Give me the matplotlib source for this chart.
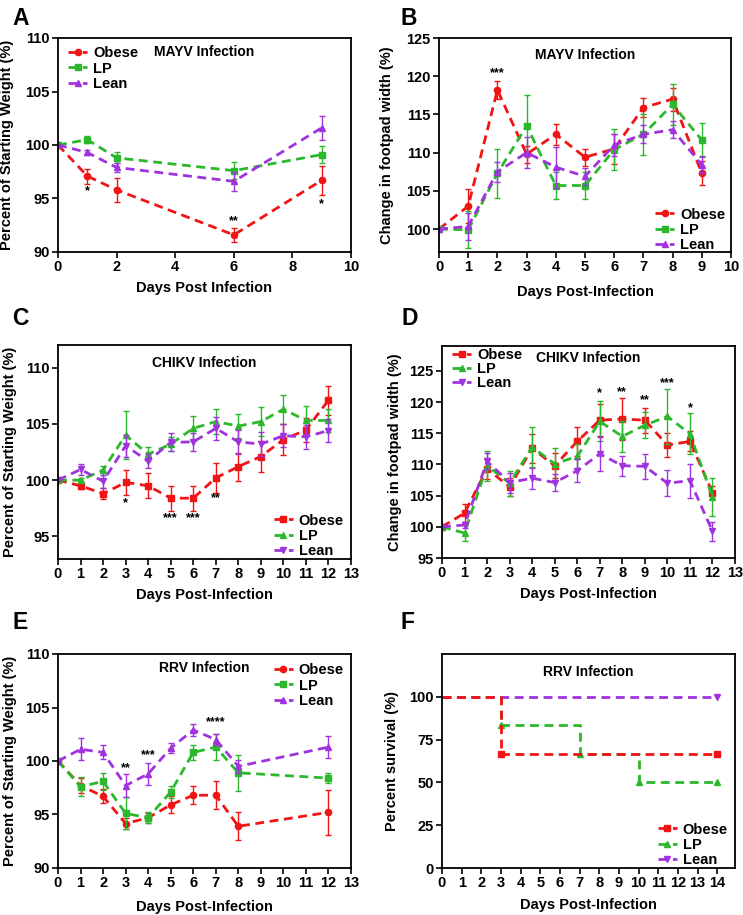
import numpy as np
import matplotlib
matplotlib.use("Agg")
import matplotlib.pyplot as plt

plt.rcParams['font.family'] = ['Liberation Sans', 'DejaVu Sans']
plt.rcParams['font.weight'] = 'bold'
plt.rcParams['axes.labelweight'] = 'bold'

RED = '#f01414'
GREEN = '#2cb82c'
PURPLE = '#a032e0'
groups = ['Obese', 'LP', 'Lean']
colors = [RED, GREEN, PURPLE]

############ DATA ########################

# A - MAYV weight
a_days = [0, 1, 2, 6, 9]
a_obese = [100, 97.1, 95.8, 91.6, 96.7]
a_obese_err = [0, 0.7, 1.1, 0.65, 1.35]
a_lp = [100, 100.5, 98.8, 97.6, 99.1]
a_lp_err = [0, 0.3, 0.5, 0.8, 0.8]
a_lean = [100, 99.3, 97.9, 96.6, 101.6]
a_lean_err = [0, 0.25, 0.4, 0.9, 1.15]
a_stars = [(1, 95.7, '*'), (6, 92.9, '**'), (9, 94.5, '*')]

# B - MAYV footpad
b_days = [0, 1, 2, 3, 4, 5, 6, 7, 8, 9]
b_obese = [100, 103.0, 118.2, 109.8, 112.4, 109.4, 110.5, 115.9, 117.0, 107.3]
b_obese_err = [0, 2.2, 1.2, 1.1, 1.4, 1.1, 2.0, 1.2, 1.5, 1.55]
b_lp = [100, 99.9, 107.3, 113.5, 105.7, 105.7, 110.4, 112.4, 116.3, 111.65]
b_lp_err = [0, 2.4, 3.2, 4.0, 1.8, 1.8, 2.7, 2.7, 2.7, 2.2]
b_lean = [100, 100.35, 107.5, 110.0, 108.1, 106.9, 111.0, 112.4, 113.0, 108.4]
b_lean_err = [0, 1.8, 1.3, 2.0, 2.7, 1.1, 1.4, 1.2, 1.1, 1.1]
b_stars = [(2, 120.4, '***')]

# C - CHIKV weight
c_days = list(range(13))
c_obese = [100, 99.5, 98.8, 99.8, 99.5, 98.4, 98.4, 100.2, 101.2, 102.1, 103.6, 104.45, 107.1]
c_obese_err = [0, 0.3, 0.5, 1.1, 1.1, 1.1, 1.1, 1.3, 1.25, 1.4, 1.4, 1.1, 1.3]
c_lp = [100, 100.0, 100.9, 104.0, 102.3, 103.2, 104.6, 105.2, 104.8, 105.2, 106.3, 105.3, 105.3]
c_lp_err = [0, 0.15, 0.4, 2.1, 0.6, 0.6, 1.1, 1.1, 1.1, 1.3, 1.3, 1.25, 1.0]
c_lean = [100, 100.95, 99.9, 103.05, 101.7, 103.35, 103.4, 104.6, 103.4, 103.2, 103.95, 103.85, 104.4]
c_lean_err = [0, 0.5, 0.6, 1.0, 0.65, 0.8, 0.8, 1.05, 1.05, 1.05, 1.0, 1.05, 1.05]
c_stars = [(3, 98.0, '*'), (5, 96.6, '***'), (6, 96.6, '***'), (7, 98.4, '**')]

# D - CHIKV footpad
d_days = list(range(13))
d_obese = [100, 102.2, 109.3, 106.4, 112.6, 109.8, 113.7, 117.1, 117.3, 117.1, 113.1, 113.7, 105.5]
d_obese_err = [0, 1.4, 1.6, 1.5, 2.3, 2.0, 2.3, 2.6, 3.4, 2.0, 1.95, 1.6, 1.0]
d_lp = [100, 99.0, 109.8, 107.0, 112.8, 110.1, 111.3, 116.9, 114.5, 116.3, 117.7, 114.9, 104.8]
d_lp_err = [0, 1.3, 2.4, 2.0, 3.2, 2.6, 2.0, 3.2, 2.5, 2.1, 4.4, 3.3, 3.0]
d_lean = [100, 100.3, 110.5, 107.1, 107.8, 107.1, 109.0, 111.7, 109.8, 109.7, 107.0, 107.4, 99.3]
d_lean_err = [0, 0.5, 1.3, 1.6, 1.7, 1.3, 1.8, 2.7, 1.6, 2.0, 2.1, 2.7, 1.5]
d_stars = [(7, 121.5, '*'), (8, 121.6, '**'), (9, 120.3, '**'), (10, 123.1, '***'), (11, 119.1, '*')]

# E - RRV weight
e_days = [0, 1, 2, 3, 4, 5, 6, 7, 8, 12]
e_obese = [100, 97.7, 96.7, 94.15, 94.7, 95.9, 96.8, 96.8, 93.9, 95.2]
e_obese_err = [0, 0.7, 0.65, 0.5, 0.45, 0.8, 0.85, 1.3, 1.3, 2.1]
e_lp = [100, 97.6, 98.1, 95.1, 94.7, 97.1, 100.8, 101.3, 98.9, 98.4]
e_lp_err = [0, 0.9, 0.8, 1.5, 0.5, 0.6, 0.7, 1.2, 1.7, 0.5]
e_lean = [100, 101.1, 100.8, 97.7, 98.8, 101.2, 102.9, 102.0, 99.5, 101.3]
e_lean_err = [0, 1.05, 0.65, 1.05, 1.05, 0.45, 0.6, 0.55, 0.6, 1.05]
e_stars = [(3, 99.3, '**'), (4, 100.5, '***'), (7, 103.65, '****')]

# F - RRV survival
f_obese_t = [0, 3, 14]
f_obese_s = [100, 66.7, 66.7]
f_lp_t = [0, 3, 7, 10, 14]
f_lp_s = [100, 83.3, 66.7, 50, 50]
f_lean_t = [0, 14]
f_lean_s = [100, 100]

############ FIGURE ########################

W, H = 743, 915
fig = plt.figure(figsize=(W / 100, H / 100), dpi=100)


def make_ax(x0, y0, x1, y1):
    # pixel box -> figure fraction
    return fig.add_axes([x0 / W, 1 - y1 / H, (x1 - x0) / W, (y1 - y0) / H])


def style(ax, xlim, xticks, ylim, yticks, xlabel, ylabel, title, ty, xl_y, yl_x):
    ax.set_xlim(xlim)
    ax.set_ylim(ylim)
    ax.set_xticks(xticks)
    ax.set_yticks(yticks)
    for s in ax.spines.values():
        s.set_linewidth(1.3)
    ax.tick_params(direction='out', length=4, width=1.2, labelsize=10.5, pad=2)
    for lab in ax.get_xticklabels() + ax.get_yticklabels():
        lab.set_fontweight('bold')
    ax.set_xlabel(xlabel, fontsize=10.5)
    ax.set_ylabel(ylabel, fontsize=10.5)
    ax.xaxis.set_label_coords(0.5, xl_y)
    ax.xaxis.label.set_va('center')
    ax.yaxis.set_label_coords(yl_x, 0.5)
    ax.yaxis.label.set_va('center')
    ax.text(0.5, ty, title, transform=ax.transAxes, ha='center', va='center',
            fontsize=10, fontweight='bold')


def series(ax, x, ys, errs, markers):
    for y, e, c, m, g in zip(ys, errs, colors, markers, groups):
        ax.errorbar(x, y, yerr=e, fmt='none', ecolor=c, elinewidth=1,
                    capsize=2.5, capthick=1)
        ax.plot(x, y, ls='--', dashes=(3.2, 2.0), lw=2, color=c, marker=m,
                ms=4.5, label=g)


def stars(ax, items):
    for x, y, s in items:
        ax.text(x, y, s, ha='center', va='center', fontsize=9, color='black')


def legend(ax, loc, anchor, spacing=0.1, handles=None):
    kw = dict(loc=loc, bbox_to_anchor=anchor, frameon=False, handlelength=1.3,
              handletextpad=0.4, labelspacing=spacing, borderaxespad=0.3,
              prop={'size': 10.5, 'weight': 'bold'})
    if handles is None:
        ax.legend(**kw)
    else:
        ax.legend(handles[0], handles[1], **kw)


# A
ax = make_ax(58, 38, 351, 252)
series(ax, a_days, [a_obese, a_lp, a_lean], [a_obese_err, a_lp_err, a_lean_err], ['o', 's', '^'])
stars(ax, a_stars)
style(ax, (0, 10), range(0, 11, 2), (90, 110), range(90, 111, 5),
      'Days Post Infection', 'Percent of Starting Weight (%)', 'MAYV Infection',
      0.935, -0.168, -0.174)
legend(ax, 'upper left', (0, 1.01))

# B
ax = make_ax(439, 38, 731, 252)
series(ax, b_days, [b_obese, b_lp, b_lean], [b_obese_err, b_lp_err, b_lean_err], ['o', 's', '^'])
stars(ax, b_stars)
style(ax, (0, 10), range(0, 11), (97, 125), range(100, 126, 5),
      'Days Post-Infection', 'Change in footpad width (%)', 'MAYV Infection',
      0.92, -0.187, -0.178)
legend(ax, 'lower right', (1.015, -0.05))

# C
ax = make_ax(58, 345, 351, 559)
series(ax, c_days, [c_obese, c_lp, c_lean], [c_obese_err, c_lp_err, c_lean_err], ['s', '^', 'v'])
stars(ax, c_stars)
style(ax, (0, 13), range(0, 14), (93, 112), range(95, 111, 5),
      'Days Post-Infection', 'Percent of Starting Weight (%)', 'CHIKV Infection',
      0.917, -0.168, -0.164)
legend(ax, 'lower right', (1.01, -0.045))

# D
ax = make_ax(442, 346, 735, 558)
series(ax, d_days, [d_obese, d_lp, d_lean], [d_obese_err, d_lp_err, d_lean_err], ['s', '^', 'v'])
stars(ax, d_stars)
style(ax, (0, 13), range(0, 14), (95, 129), range(95, 126, 5),
      'Days Post-Infection', 'Change in footpad width (%)', 'CHIKV Infection',
      0.944, -0.17, -0.16)
legend(ax, 'upper left', (0, 1.04), spacing=0.0)

# E
ax = make_ax(58, 654, 351, 868)
series(ax, e_days, [e_obese, e_lp, e_lean], [e_obese_err, e_lp_err, e_lean_err], ['o', 's', '^'])
stars(ax, e_stars)
style(ax, (0, 13), range(0, 14), (90, 110), range(90, 111, 5),
      'Days Post-Infection', 'Percent of Starting Weight (%)', 'RRV Infection',
      0.934, -0.182, -0.164)
legend(ax, 'upper right', (1.01, 1.005))

# F
ax = make_ax(442, 654, 735, 868)
surv = [(f_lp_t, f_lp_s, GREEN, '^', 'LP'),
        (f_lean_t, f_lean_s, PURPLE, 'v', 'Lean'),
        (f_obese_t, f_obese_s, RED, 's', 'Obese')]
for t, s, c, m, g in surv:
    ax.step(t, s, where='post', ls='--', dashes=(3.2, 2.0), lw=2, color=c,
            marker=m, ms=4.5, markevery=slice(1, None), label=g)
style(ax, (0, 14.9), range(0, 15), (0, 125), range(0, 101, 25),
      'Days Post-Infection', 'Percent survival (%)', 'RRV Infection',
      0.916, -0.173, -0.171)
h, l = ax.get_legend_handles_labels()
order = [2, 0, 1]
legend(ax, 'lower right', (1.01, -0.045),
       handles=([h[i] for i in order], [l[i] for i in order]))

# panel letters
for letter, px, py in [('A', 12, 7), ('B', 400, 7), ('C', 12, 307),
                       ('D', 401, 307), ('E', 12, 611), ('F', 400, 611)]:
    fig.text(px / W, 1 - py / H, letter, fontsize=16.5, fontweight='bold',
             va='top', ha='left')

fig.savefig('out.png', dpi=100)
